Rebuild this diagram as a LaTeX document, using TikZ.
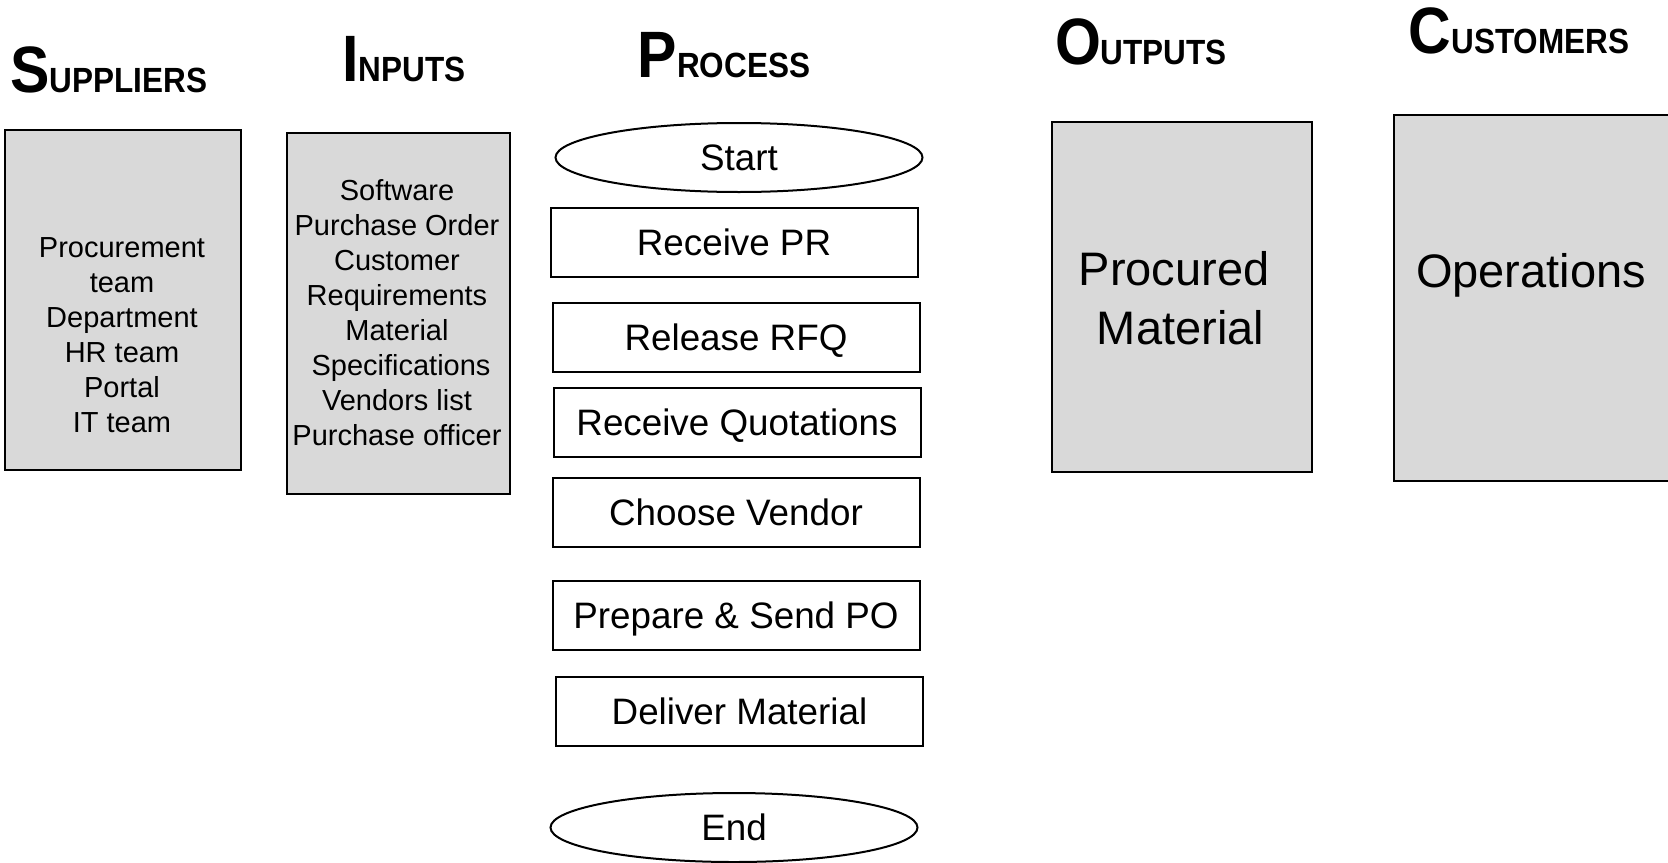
\documentclass[tikz,border=0pt]{standalone}
\usepackage{fontspec}
\setmainfont{Liberation Sans}
\newfontfamily\headfont[FakeStretch=0.9]{Liberation Sans}
\usetikzlibrary{shapes.geometric}
\definecolor{panelgray}{HTML}{D9D9D9}
% Column heading: large initial capital followed by smaller capitals
\newcommand\headword[2]{{\headfont\bfseries\fontsize{32.8}{36}\selectfont #1\fontsize{17.5}{20}\selectfont #2}}
% a leading word space that is kept at the start of a centred line
\newcommand\lead{\hspace*{0.278em}}

\begin{document}
\begin{tikzpicture}[x=0.5pt,y=-0.5pt,
  panel/.style={draw=black, fill=panelgray, line width=1.15pt, anchor=north west, inner sep=0pt},
  stepbox/.style={draw=black, line width=1pt, minimum width=183.5pt, minimum height=34.5pt,
    inner sep=0pt, font=\fontsize{18.4}{22}\selectfont, text height=13pt, text depth=0pt},
  terminal/.style={stepbox, ellipse},
  heading/.style={anchor=base, inner sep=0pt},
  listtext/.style={align=center, inner sep=0pt, font=\fontsize{14.5}{17.5}\selectfont},
  bigtext/.style={align=center, inner sep=0pt, font=\fontsize{23.5}{29.5}\selectfont}]

\useasboundingbox (0,0) rectangle (1668,862);
\clip (0,0) rectangle (1668,862);

% column headings
\node[heading] (hsup)  at (109,92)  {\headword{S}{UPPLIERS}};
\node[heading] (hin)   at (404,81)  {\headword{I}{NPUTS}};
\node[heading] (hproc) at (724,77)  {\headword{P}{ROCESS}};
\node[heading] (hout)  at (1141,64) {\headword{O}{UTPUTS}};
\node[heading] (hcus)  at (1519,53) {\headword{C}{USTOMERS}};

% suppliers
\node[panel, minimum width=118pt, minimum height=170pt] (supbox) at (4,129) {};
\node[listtext] (suptext) at (122,335)
  {Procurement\\team\\Department\\HR team\\Portal\\IT team};

% inputs
\node[panel, minimum width=111.5pt, minimum height=180.5pt] (inbox) at (286,132) {};
\node[listtext] (intext) at (397,313)
  {Software\\Purchase Order\\Customer\\Requirements\\Material\\\lead Specifications\\Vendors list\\Purchase officer};

% process steps
\node[terminal] (start)   at (739,157.5) {Start};
\node[stepbox]  (pr)      at (734,242.5) {Receive PR};
\node[stepbox]  (rfq)     at (736,337.5) {Release RFQ};
\node[stepbox]  (quotes)  at (737,422)   {Receive Quotations};
\node[stepbox]  (vendor)  at (736,512.5) {Choose Vendor};
\node[stepbox]  (po)      at (736,615)   {Prepare \& Send PO};
\node[stepbox]  (deliver) at (739.5,711.5) {Deliver Material};
\node[terminal] (finish)  at (734,827.5) {End};

% outputs
\node[panel, minimum width=130pt, minimum height=175pt] (outbox) at (1051,121) {};
\node[bigtext] (outtext) at (1174,298.5) {Procured\\\lead Material};

% customers
\node[panel, minimum width=141.5pt, minimum height=183pt] (cusbox) at (1393,114) {};
\node[bigtext, anchor=base] (custext) at (1531,287) {Operations};

\end{tikzpicture}
\end{document}
